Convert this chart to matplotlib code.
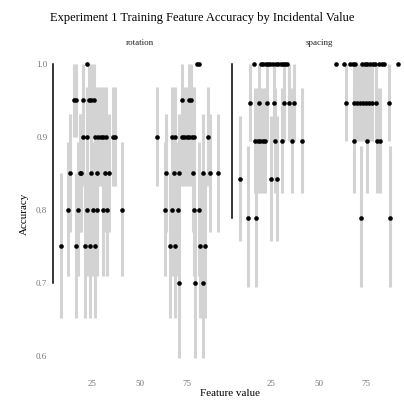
import matplotlib
matplotlib.use("Agg")
import matplotlib.pyplot as plt

plt.rcParams["font.family"] = ["Liberation Serif", "DejaVu Serif"]

# accuracy levels (rotation: 20 trials, spacing: 19 trials) and their 68% intervals
rot_acc = [1.0, 0.95, 0.9, 0.85, 0.8, 0.75, 0.7]
rot_lo = [1.0, 0.90, 0.833, 0.769, 0.709, 0.652, 0.597]
rot_hi = [1.0, 1.0, 0.969, 0.932, 0.893, 0.850, 0.800]
rot_x = [
    [22.5, 80.2, 81.2],
    [15.2, 16.6, 20.4, 23.2, 24.6, 25.9, 72.2, 75.8, 77.1],
    [20.2, 22.2, 26.5, 28.3, 29.6, 30.9, 32.5, 35.7, 36.9,
     59.0, 66.9, 68.8, 72.2, 73.5, 74.8, 76.1, 77.4, 78.5, 86.1],
    [13.4, 18.3, 19.2, 24.5, 27.4, 31.5, 33.6,
     63.7, 67.9, 70.9, 78.1, 83.1, 87.0, 91.4],
    [12.3, 17.4, 22.4, 25.4, 27.5, 30.6, 32.7, 40.8,
     63.1, 66.9, 70.0, 78.8, 81.1],
    [8.3, 16.5, 21.3, 23.6, 26.6, 66.0, 68.8, 82.0, 84.3],
    [70.9, 79.2, 83.2],
]

spa_acc = [1.0, 0.947, 0.895, 0.842, 0.789]
spa_lo = [1.0, 0.895, 0.823, 0.757, 0.694]
spa_hi = [1.0, 1.0, 0.967, 0.928, 0.887]
spa_x = [
    [15.9, 19.6, 20.8, 22.0, 23.3, 24.6, 26.0, 27.4, 28.7, 30.0, 31.3, 32.5, 33.4,
     59.3, 63.2, 66.3, 68.1, 69.3, 72.8, 74.2, 75.6, 77.0, 78.4, 79.8, 81.6,
     83.1, 84.6, 91.8],
    [13.7, 18.8, 22.8, 26.3, 31.6, 34.2, 37.0,
     64.5, 68.6, 70.2, 71.8, 73.4, 74.9, 76.3, 78.2, 80.2, 86.8],
    [16.7, 17.9, 19.3, 20.7, 21.9, 27.0, 30.7, 35.9, 41.2,
     68.4, 75.5, 80.7, 82.1],
    [8.8, 24.9, 28.1],
    [12.8, 17.0, 72.5, 87.8],
]

facets = [
    ("rotation", rot_acc, rot_lo, rot_hi, rot_x),
    ("spacing", spa_acc, spa_lo, spa_hi, spa_x),
]

fig = plt.figure(figsize=(4.04, 4.0), dpi=100)
lefts = [0.131, 0.574]
axes = [fig.add_axes([l, 0.065, 0.431, 0.8025]) for l in lefts]

for ax, (name, acc, lo, hi, xs) in zip(axes, facets):
    for a, l, h, row in zip(acc, lo, hi, xs):
        ax.vlines(row, l, h, color="#d3d3d3", lw=2.2, zorder=1)
        ax.scatter(row, [a] * len(row), s=11, color="black", lw=0, zorder=2)
    ax.set_xlim(4.3, 96)
    ax.set_ylim(0.575, 1.015)
    ax.set_xticks([25, 50, 75])
    ax.set_yticks([0.6, 0.7, 0.8, 0.9, 1.0])
    ax.tick_params(length=0, labelsize=6.5, labelcolor="#777777", pad=4)
    for side in ("top", "right", "bottom"):
        ax.spines[side].set_visible(False)
    ax.spines["left"].set_bounds(min(acc), max(acc))
    ax.spines["left"].set_linewidth(1.1)
    ax.set_title(name, fontsize=6.5, pad=6, color="#222222")

axes[1].tick_params(labelleft=False)
axes[0].set_ylabel("Accuracy", fontsize=8, labelpad=5)

fig.text(0.57, 0.004, "Feature value", ha="center", va="bottom", fontsize=8)
fig.suptitle("Experiment 1 Training Feature Accuracy by Incidental Value",
             fontsize=9.0, y=0.97)

fig.savefig("out.png", dpi=100)
